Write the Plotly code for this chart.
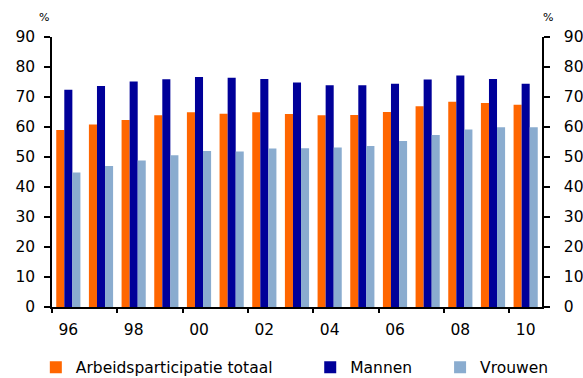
import plotly.graph_objects as go

# Labour participation, 1996-2010 (%)
years = ["96", "97", "98", "99", "00", "01", "02", "03", "04", "05", "06", "07", "08", "09", "10"]
totaal = [59.0, 60.8, 62.3, 63.9, 64.9, 64.4, 64.9, 64.3, 63.9, 64.0, 65.0, 66.9, 68.4, 68.0, 67.4]
mannen = [72.4, 73.7, 75.2, 75.9, 76.7, 76.4, 76.0, 74.8, 73.9, 73.9, 74.4, 75.8, 77.2, 76.0, 74.4]
vrouwen = [44.8, 47.0, 48.8, 50.6, 52.0, 51.8, 52.8, 52.9, 53.2, 53.7, 55.3, 57.3, 59.2, 59.9, 59.9]
y_ticks = [0, 10, 20, 30, 40, 50, 60, 70, 80, 90]

FONT = "DejaVu Sans"
FS = 15.5
idx = list(range(len(years)))

fig = go.Figure()
series = [
    ("Arbeidsparticipatie totaal", totaal, "#FF6600", "legend"),
    ("Mannen", mannen, "#000099", "legend2"),
    ("Vrouwen", vrouwen, "#8AACCF", "legend3"),
]
for name, vals, color, leg in series:
    fig.add_trace(go.Bar(x=idx, y=vals, name=name, marker=dict(color=color, line=dict(width=0)),
                         legend=leg))

# invisible trace that carries the right-hand value axis
fig.add_trace(go.Scatter(x=[idx[0]], y=[0], yaxis="y2", mode="markers",
                         marker=dict(opacity=0), showlegend=False, hoverinfo="skip"))
# invisible trace for the boundary tick marks on the category axis
fig.add_trace(go.Scatter(x=[idx[0]], y=[0], xaxis="x2", mode="markers",
                         marker=dict(opacity=0), showlegend=False, hoverinfo="skip"))

xr = [-0.5, len(years) - 0.5]
label_pos = idx[::2]
boundary_pos = [i - 0.5 for i in idx[::2]]

leg_common = dict(orientation="h", yanchor="middle", xanchor="left", yref="container",
                  xref="paper", y=0.027,
                  font=dict(family=FONT, size=FS, color="black"), bgcolor="rgba(0,0,0,0)",
                  borderwidth=0, itemclick=False)

fig.update_layout(
    width=583, height=378,
    margin=dict(l=52, r=41, t=37, b=71, autoexpand=False),
    paper_bgcolor="white", plot_bgcolor="white",
    barmode="group", bargap=0.26, bargroupgap=0,
    font=dict(family=FONT, size=FS, color="black"),
    xaxis=dict(range=xr, tickmode="array", tickvals=label_pos,
               ticktext=[years[i] for i in label_pos], ticks="", showline=True,
               linecolor="black", linewidth=1.5, showgrid=False, zeroline=False,
               tickfont=dict(size=FS), ticklabelstandoff=8),
    xaxis2=dict(range=xr, overlaying="x", side="bottom", anchor="y", tickmode="array",
                tickvals=boundary_pos, ticks="outside", ticklen=5, tickwidth=1.5,
                tickcolor="black", showticklabels=False, showline=False, showgrid=False,
                zeroline=False),
    yaxis=dict(range=[0, 90], tickmode="array", tickvals=y_ticks, ticks="outside",
               ticklen=6, tickwidth=1.5, tickcolor="black", showline=True,
               linecolor="black", linewidth=1.5, showgrid=False, zeroline=False,
               ticklabelstandoff=6),
    yaxis2=dict(range=[0, 90], overlaying="y", side="right", anchor="x",
                tickmode="array", tickvals=y_ticks, ticks="outside", ticklen=6,
                tickwidth=1.5, tickcolor="black", showline=True, linecolor="black",
                linewidth=1.5, showgrid=False, zeroline=False, ticklabelstandoff=11),
    legend=dict(leg_common, x=-0.033),
    legend2=dict(leg_common, x=0.527),
    legend3=dict(leg_common, x=0.792),
    showlegend=True,
)

# unit labels above both value axes
for xpos, shift in [(0.0, -8), (1.0, 6)]:
    fig.add_annotation(text="%", xref="paper", yref="paper", x=xpos, y=1.0,
                       yshift=20, xshift=shift, showarrow=False, xanchor="center",
                       yanchor="middle", font=dict(family=FONT, size=11, color="black"))

fig.write_html("out.html")
